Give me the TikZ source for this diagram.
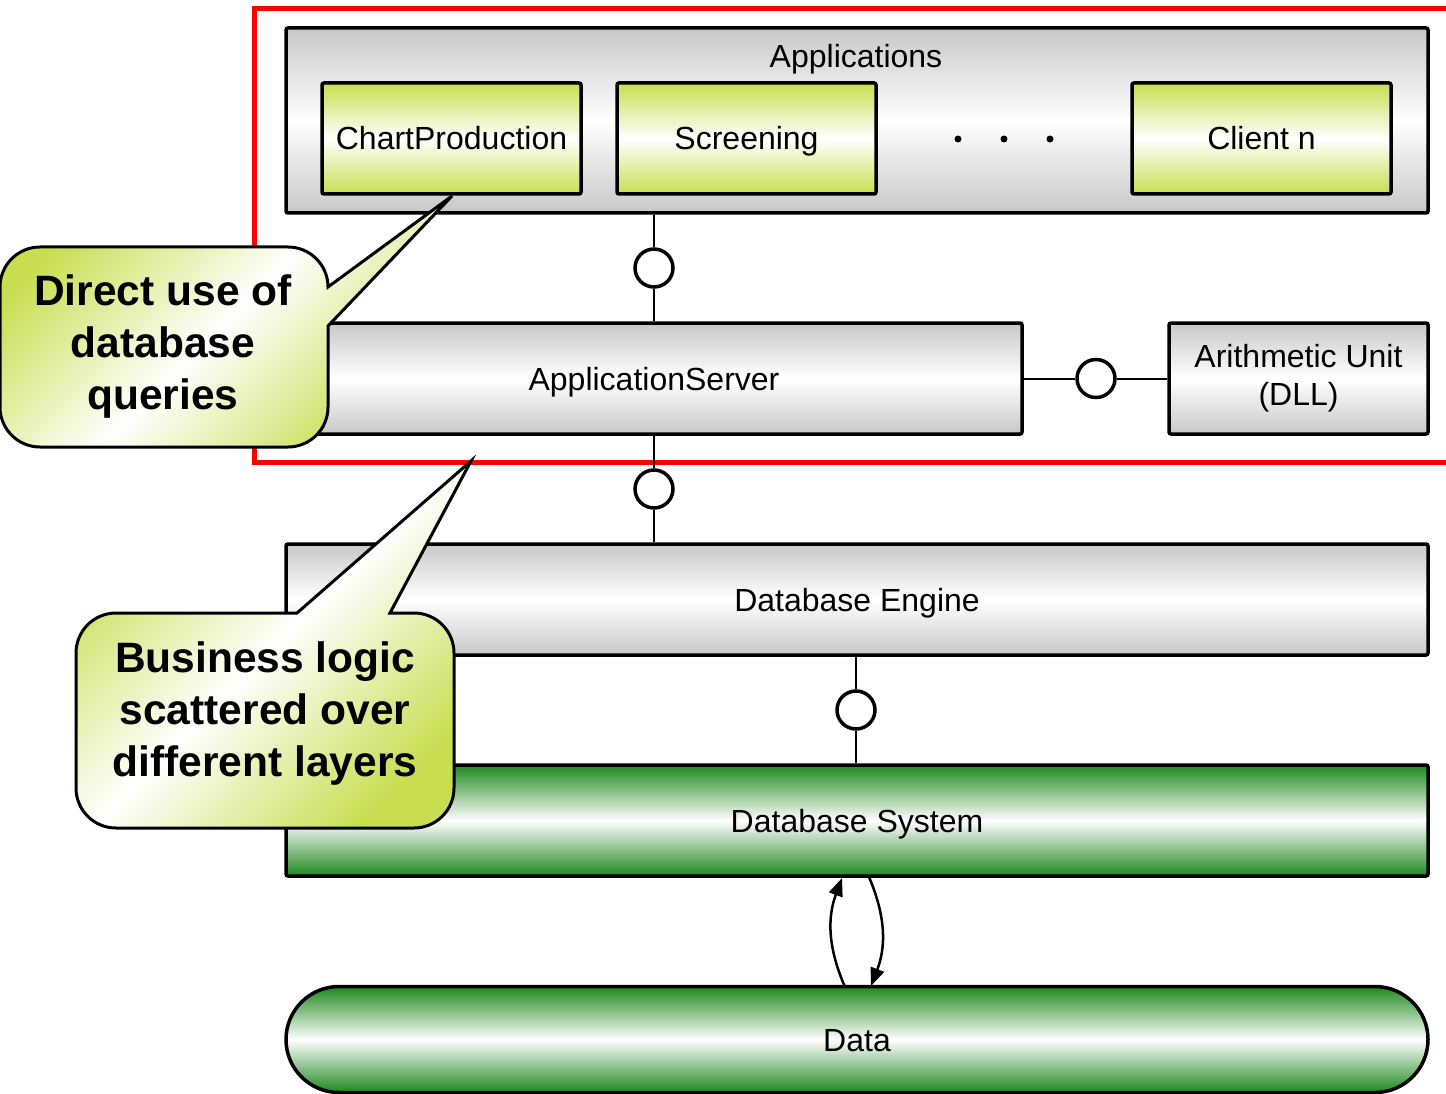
\documentclass[tikz,border=0pt]{standalone}
\usepackage{fontspec}
\setmainfont{Liberation Sans}
\usetikzlibrary{arrows.meta,calc}
\definecolor{boxgray}{RGB}{200,200,200}
\definecolor{yg}{RGB}{200,222,80}
\definecolor{dg}{RGB}{30,136,30}
\tikzset{
  box/.style={draw, line width=3.5pt, rounded corners=2pt, inner sep=0pt, align=center,
    font=\fontsize{32}{38}\selectfont},
  oneline/.style={text height=23pt, text depth=0pt},
  graybox/.style={box, top color=boxgray, bottom color=boxgray, middle color=white},
  ygbox/.style={box, oneline, top color=yg, bottom color=yg, middle color=white,
    minimum width=259pt, minimum height=111pt},
  greenbox/.style={box, oneline, top color=dg, bottom color=dg, middle color=white},
  iface/.style={circle, draw, line width=3.5pt, fill=white, minimum size=38pt, inner sep=0pt},
  conn/.style={line width=2pt},
  flow/.style={line width=2.5pt, -{Triangle[length=18pt,width=14pt]}},
  callout/.style={draw, line width=3pt, left color=yg, right color=yg, middle color=white, shading angle=45},
  callouttext/.style={align=center, font=\fontsize{42.5}{52}\selectfont\bfseries},
  frame/.style={draw=red, line width=5pt},
}
\begin{document}
\begin{tikzpicture}[x=1pt,y=-1pt]
\useasboundingbox (0,0) rectangle (1446,1094);
% red frame
\draw[frame] (254,9) rectangle (1480,462);
% boxes
\node[graybox, minimum width=1142pt, minimum height=185pt] (apps) at (857,120.5) {};
\node[oneline, inner sep=0pt, font=\fontsize{32}{38}\selectfont] (appslabel) at (856,56) {Applications};
\node[ygbox] (chart) at (451.5,138.5) {ChartProduction};
\node[ygbox] (screen) at (746.5,138.5) {Screening};
\node[ygbox] (client) at (1261.5,138.5) {Client n};
\foreach \x/\n in {958/d1,1004/d2,1050/d3}
  \fill (\x,139) circle[radius=3.5];
\node[graybox, oneline, minimum width=736pt, minimum height=111pt] (appserver) at (654,378.5) {ApplicationServer};
\node[graybox, minimum width=259pt, minimum height=111pt] (arith) at (1298.5,378.5) {Arithmetic Unit\\(DLL)};
\node[graybox, oneline, minimum width=1142pt, minimum height=111pt] (dbengine) at (857,599.5) {Database Engine};
\node[greenbox, minimum width=1142pt, minimum height=111pt] (dbsystem) at (857,820.5) {Database System};
\node[greenbox, rounded corners=53pt, minimum width=1142pt, minimum height=106pt] (data) at (857,1039.5) {Data};
% interfaces
\node[iface] (i1) at (654,268) {};
\node[iface] (i2) at (1096,378.5) {};
\node[iface] (i3) at (654,489) {};
\node[iface] (i4) at (856,710) {};
\draw[conn] (i1.north) -- (i1.north |- apps.south);
\draw[conn] (i1.south) -- (appserver.north);
\draw[conn] (appserver.east) -- (i2.west);
\draw[conn] (i2.east) -- (arith.west);
\draw[conn] (appserver.south) -- (i3.north);
\draw[conn] (i3.south) -- (i3.south |- dbengine.north);
\draw[conn] (dbengine.south -| i4) -- (i4.north);
\draw[conn] (i4.south) -- (i4.south |- dbsystem.north);
% data flow
\coordinate (a1s) at (845,987);
\coordinate (a1e) at (842,878);
\coordinate (a2s) at (869,877);
\coordinate (a2e) at (871,986);
\draw[flow] (a1s) to[bend left=22] (a1e);
\draw[flow] (a2s) to[bend left=22] (a2e);
% callout 1
\path[callout] (328,287) -- (452,196) -- (328,326) -- (328,407)
  arc[start angle=0,end angle=90,radius=40] -- (40,447)
  arc[start angle=90,end angle=180,radius=40] -- (0,287)
  arc[start angle=180,end angle=270,radius=40] -- (288,247)
  arc[start angle=270,end angle=360,radius=40] -- cycle;
\node[callouttext] (c1) at (163,347) {Direct use of\\database\\queries};
% callout 2
\path[callout] (297,613) -- (471,461) -- (390,613) -- (414,613)
  arc[start angle=270,end angle=360,radius=40] -- (454,788)
  arc[start angle=0,end angle=90,radius=40] -- (116,828)
  arc[start angle=90,end angle=180,radius=40] -- (76,653)
  arc[start angle=180,end angle=270,radius=40] -- cycle;
\node[callouttext] (c2) at (265,714) {Business logic\\scattered over\\different layers};
\end{tikzpicture}
\end{document}
